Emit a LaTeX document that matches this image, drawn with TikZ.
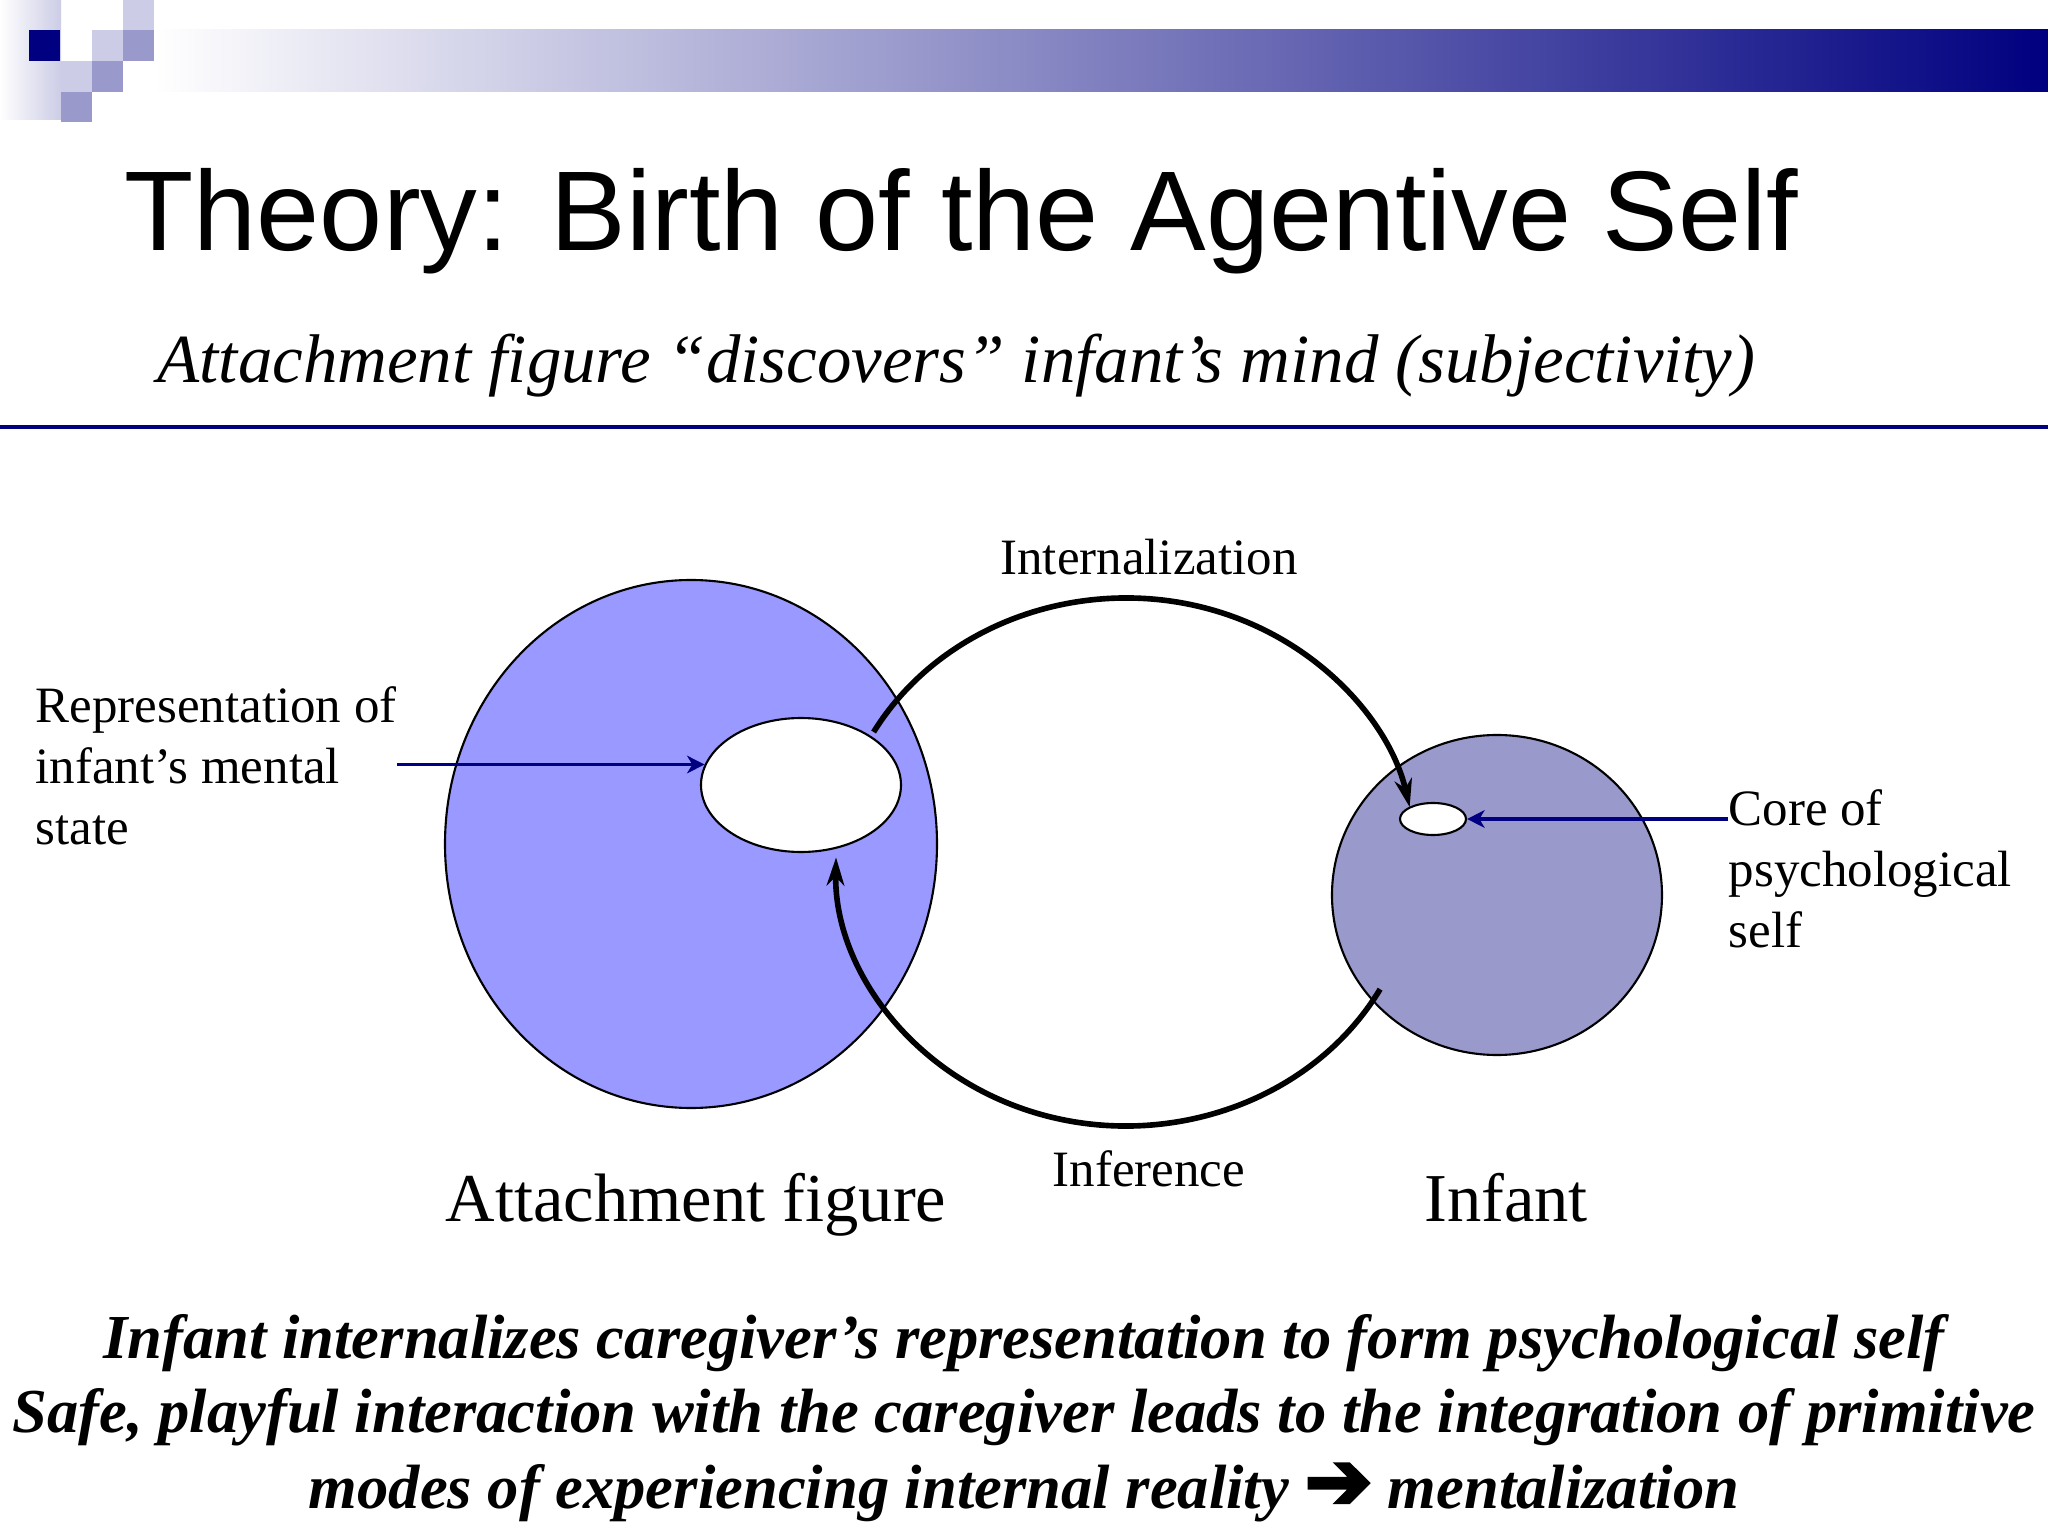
\documentclass[tikz,border=0pt]{standalone}
\usepackage{fontspec}
\setmainfont{Liberation Serif}
\newfontfamily\headfont{Liberation Sans}
\newfontfamily\dingfont[FakeBold=4]{DejaVu Sans}
\usepackage{tikz}
\usetikzlibrary{arrows.meta}
\usetikzlibrary{shapes.geometric}

\definecolor{barnavy}{HTML}{000080}
\definecolor{barlight}{HTML}{CCCCE6}
\definecolor{barmid}{HTML}{9999CC}
\definecolor{carerblue}{HTML}{9999FF}
\definecolor{infantgrey}{HTML}{9999CC}

\begin{document}
\begin{tikzpicture}[
  every node/.style = {inner sep=0pt},
  blob/.style={ellipse, draw, line width=0.6pt},
  hole/.style={blob, fill=white},
  loopline/.style={line width=1.6pt, -{Stealth[length=8pt,width=5pt,inset=2.5pt]}},
  pointer/.style={draw=barnavy, line width=0.9pt, -{Stealth[length=5pt,width=5pt,inset=1.5pt]}},
  lbl/.style={font=\fontsize{14.5}{17.4}\selectfont},
  biglbl/.style={font=\fontsize{19.5}{23}\selectfont},
  summary/.style={anchor=base, font=\bfseries\itshape\fontsize{17.8}{21}\selectfont}]
  \useasboundingbox (0,0) rectangle (20.48,-15.36);
  % header band and tiles
  \shade[left color=white, right color=barlight] (0,0) rectangle (0.61,-1.20);
  \shade[left color=white, right color=barnavy] (1.54,-0.30) rectangle (20.48,-0.92);
  \fill[barlight] (1.23,0) rectangle ++(0.31,-0.30);
  \fill[barnavy] (0.29,-0.30) rectangle ++(0.31,-0.31);
  \fill[barlight] (0.92,-0.30) rectangle ++(0.31,-0.31);
  \fill[barmid] (1.23,-0.30) rectangle ++(0.31,-0.31);
  \fill[barlight] (0.61,-0.61) rectangle ++(0.31,-0.31);
  \fill[barmid] (0.92,-0.61) rectangle ++(0.31,-0.31);
  \fill[barmid] (0.61,-0.92) rectangle ++(0.31,-0.30);
  \node[anchor=base west, font=\headfont\fontsize{32.25}{38}\selectfont] (title) at (1.24,-2.51) {Theory: Birth of the Agentive Self};
  \node[anchor=base west, font=\itshape\fontsize{19.6}{24}\selectfont] (subtitle) at (1.57,-3.83) {Attachment figure “discovers” infant’s mind (subjectivity)};
  \draw[barnavy, line width=1.2pt] (0,-4.27) -- (20.48,-4.27);
  % the two minds
  \node[blob, fill=carerblue, minimum width=4.92cm, minimum height=5.28cm] (carer) at (6.91,-8.44) {};
  \node[hole, minimum width=2.00cm, minimum height=1.34cm] (rep) at (8.01,-7.85) {};
  \node[blob, fill=infantgrey, minimum width=3.30cm, minimum height=3.20cm] (infant) at (14.97,-8.95) {};
  \node[hole, minimum width=0.66cm, minimum height=0.32cm] (core) at (14.33,-8.19) {};
  % the loop
  \coordinate (loop) at (11.26,-8.62);
  \coordinate (intstart) at ([shift={(150.5:2.90 and 2.64)}]loop);
  \coordinate (infstart) at ([shift={(-28.8:2.90 and 2.64)}]loop);
  \draw[loopline] (intstart) arc[start angle=150.5, end angle=12, x radius=2.90, y radius=2.64];
  \draw[loopline] (infstart) arc[start angle=-28.8, end angle=-181, x radius=2.90, y radius=2.64];
  \node[lbl, anchor=base] (intlbl) at (11.49,-5.75) {Internalization};
  \node[lbl, anchor=base] (inflbl) at (11.49,-11.86) {Inference};
  \node[biglbl, anchor=base] (carerlbl) at (6.96,-12.21) {Attachment figure};
  \node[biglbl, anchor=base] (infantlbl) at (15.06,-12.21) {Infant};
  \node[lbl, anchor=north west, align=left] (replbl) at (0.35,-6.86) {Representation of\\infant’s mental\\state};
  \node[lbl, anchor=north west, align=left] (corelbl) at (17.28,-7.89) {Core of\\psychological\\self};
  \draw[pointer] (replbl.east |- rep.168) -- (rep.168);
  \draw[pointer] (corelbl.west |- core.east) -- (core.east);
  % summary lines
  \node[summary] (sum1) at (10.24,-13.585) {Infant internalizes caregiver’s representation to form psychological self};
  \node[summary] (sum2) at (10.24,-14.325) {Safe, playful interaction with the caregiver leads to the integration of primitive};
  \node[summary] (sum3) at (10.24,-15.085) {modes of experiencing internal reality {\dingfont\fontsize{23}{23}\selectfont ➔} mentalization};
\end{tikzpicture}
\end{document}
